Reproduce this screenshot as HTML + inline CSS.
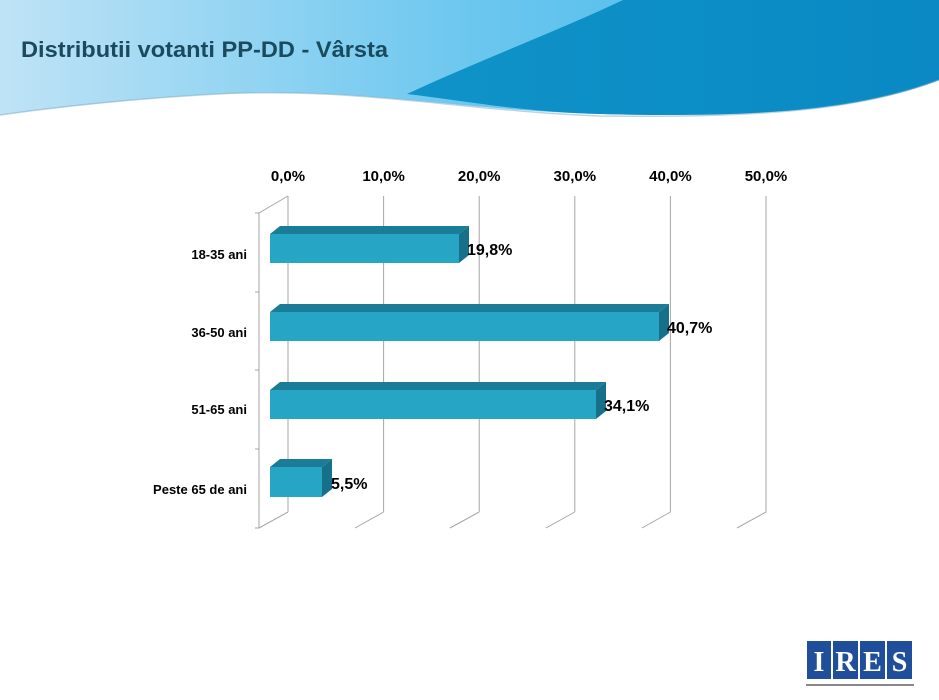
<!DOCTYPE html>
<html><head><style>
body{margin:0;width:939px;height:700px;overflow:hidden;background:#fff;font-family:"Liberation Sans",sans-serif;position:relative}
</style></head><body>
<svg width="939" height="700" style="position:absolute;left:0;top:0">
<defs>
<linearGradient id="hd" x1="0" y1="0" x2="1" y2="0">
<stop offset="0" stop-color="#bfe3f6"/><stop offset="0.5" stop-color="#6cc7ef"/><stop offset="1" stop-color="#3ab6e8"/></linearGradient>
<linearGradient id="hd2" x1="0" y1="0" x2="1" y2="0">
<stop offset="0" stop-color="#0f93c8"/><stop offset="1" stop-color="#0a89c4"/></linearGradient>
</defs>
<path d="M0 0H939V80C860 110 760 118 600 114C450 110 350 85 200 95C120 100 50 108 0 115Z" fill="url(#hd)"/>
<path d="M623 0H939V80C860 110 760 118 600 114C520 112 460 100 407 94C480 60 560 30 623 0Z" fill="url(#hd2)"/>
<path d="M0 115C50 108 120 100 200 95C350 85 450 110 600 116C760 118 860 110 939 80" fill="none" stroke="#7aa9c0" stroke-width="1.5" opacity="0.5"/>
<text x="21" y="57" font-size="22" font-weight="bold" fill="#1a4a5e" textLength="367" lengthAdjust="spacingAndGlyphs">Distributii votanti PP-DD - Vârsta</text>
<g stroke="#a6a6a6" stroke-width="1" fill="none">
<path d="M288 196V512M383.6 196V512M479.2 196V512M574.8 196V512M670.4 196V512M766 196V512"/>
<path d="M288 196L259 213V528M288 512L259 528M383.6 512L355 528M479.2 512L450 528M574.8 512L546 528M670.4 512L642 528M766 512L737 528"/>
<path d="M255 213H259M255 292H259M255 370H259M255 449H259M255 528H259"/>
</g>
<g font-size="15" font-weight="bold" fill="#000" text-anchor="middle">
<text x="288" y="181">0,0%</text><text x="383.6" y="181">10,0%</text><text x="479.2" y="181">20,0%</text><text x="574.8" y="181">30,0%</text><text x="670.4" y="181">40,0%</text><text x="766" y="181">50,0%</text>
</g>
<g font-size="13" font-weight="bold" text-anchor="end">
<text x="247" y="259">18-35 ani</text><text x="247" y="337">36-50 ani</text><text x="247" y="414">51-65 ani</text><text x="247" y="494">Peste 65 de ani</text>
</g>
<g>
<polygon points="270,234 280,226 469,226 459,234" fill="#1b7c97"/><rect x="270" y="234" width="189" height="29" fill="#27a5c4"/><polygon points="459,234 469,226 469,255 459,263" fill="#17708a"/>
<polygon points="270,312 280,304 669,304 659,312" fill="#1b7c97"/><rect x="270" y="312" width="389" height="29" fill="#27a5c4"/><polygon points="659,312 669,304 669,333 659,341" fill="#17708a"/>
<polygon points="270,390 280,382 606,382 596,390" fill="#1b7c97"/><rect x="270" y="390" width="326" height="29" fill="#27a5c4"/><polygon points="596,390 606,382 606,411 596,419" fill="#17708a"/>
<polygon points="270,467 280,459 332,459 322,467" fill="#1b7c97"/><rect x="270" y="467" width="52" height="30" fill="#27a5c4"/><polygon points="322,467 332,459 332,489 322,497" fill="#17708a"/>
</g>
<g font-size="16" font-weight="bold">
<text x="467" y="255">19,8%</text><text x="667" y="333">40,7%</text><text x="604" y="411">34,1%</text><text x="331" y="489">5,5%</text>
</g>
<g font-family="Liberation Serif" font-size="28" font-weight="bold" fill="#fff" text-anchor="middle">
<rect x="807" y="641" width="24" height="38" fill="#1f4f9b"/><text x="819" y="671">I</text>
<rect x="833" y="641" width="25" height="38" fill="#1f4f9b"/><text x="845.5" y="671">R</text>
<rect x="860" y="641" width="25" height="38" fill="#1f4f9b"/><text x="872.5" y="671">E</text>
<rect x="887" y="641" width="25" height="38" fill="#1f4f9b"/><text x="899.5" y="671">S</text>
</g>
<rect x="806" y="684" width="108" height="2" fill="#888"/>
</svg>
</body></html>
